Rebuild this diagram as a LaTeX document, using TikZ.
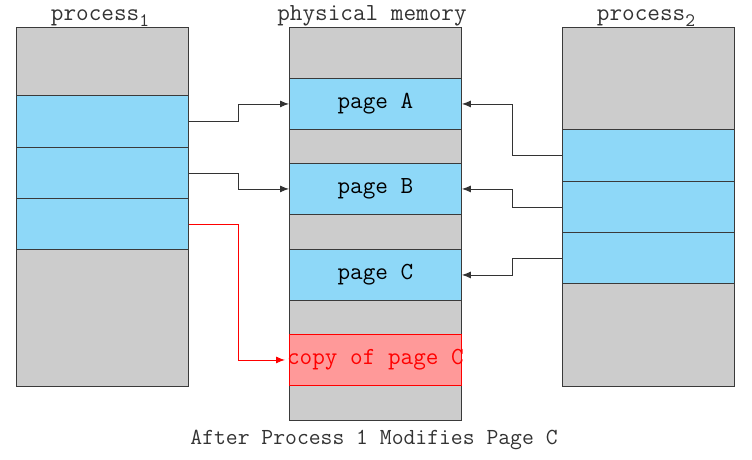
\documentclass[tikz,border=0pt]{standalone}
\usetikzlibrary{arrows.meta}
\definecolor{memgray}{HTML}{CCCCCC}
\definecolor{pageblue}{HTML}{8ED8F8}
\definecolor{copyred}{HTML}{FF9999}
\definecolor{edge}{HTML}{3A3A3A}
\newcommand{\subidx}[1]{\raisebox{-6pt}{\fontsize{19}{19}\selectfont #1}}
\begin{document}
\begin{tikzpicture}[x=1pt,y=-1pt,
  band/.style={draw=edge, line width=0.9pt, inner sep=0pt, anchor=north west,
    minimum width=172pt, font=\fontsize{24.5}{25}\ttfamily},
  gb/.style={band, fill=memgray},
  bb/.style={band, fill=pageblue},
  rb/.style={band, fill=copyred, draw=red, text=red},
  title/.style={font=\fontsize{24.5}{25}\ttfamily, text=black!80, anchor=base},
  arr/.style={draw=black!80, line width=0.9pt, -{Latex[length=9pt,width=7pt]}},
  rarr/.style={draw=red, line width=0.9pt, -{Latex[length=9pt,width=7pt]}}]
\useasboundingbox (0,0) rectangle (752,459);
% process 1
\node[gb, minimum height=359pt] (p1) at (16,27) {};
\node[bb, minimum height=52pt] (p1a) at (16,95) {};
\node[bb, minimum height=51pt] (p1b) at (16,147) {};
\node[bb, minimum height=51pt] (p1c) at (16,198) {};
% physical memory
\node[gb, minimum height=393pt] (pm) at (289,27) {};
\node[bb, minimum height=51pt] (pmA) at (289,78) {page A};
\node[bb, minimum height=51pt] (pmB) at (289,163) {page B};
\node[bb, minimum height=51pt] (pmC) at (289,249) {page C};
\node[rb, minimum height=51pt] (pmD) at (289,334) {};
\node[font=\fontsize{24.5}{25}\ttfamily, text=red, inner sep=0pt] (pmDt) at (pmD.center) {copy of page C};
% process 2
\node[gb, minimum height=359pt] (p2) at (562,27) {};
\node[bb, minimum height=52pt] (p2a) at (562,129) {};
\node[bb, minimum height=51pt] (p2b) at (562,181) {};
\node[bb, minimum height=51pt] (p2c) at (562,232) {};
% titles
\node[title] (t1) at (100,20) {process\subidx{1}};
\node[title] (t2) at (372,20) {physical memory};
\node[title] (t3) at (646,20) {process\subidx{2}};
\node[title, font=\fontsize{23}{24}\ttfamily] (cap) at (374,444) {After Process 1 Modifies Page C};
% connectors
\draw[arr] (p1a.east) -- ++(50,0) |- (pmA.west);
\draw[arr] (p1b.east) -- ++(50,0) |- (pmB.west);
\draw[rarr] (p1c.east) -- ++(50,0) |- ([xshift=-4pt]pmD.west);
\draw[arr] (p2a.west) -- ++(-50,0) |- (pmA.east);
\draw[arr] (p2b.west) -- ++(-50,0) |- (pmB.east);
\draw[arr] (p2c.west) -- ++(-50,0) |- (pmC.east);
\end{tikzpicture}
\end{document}
